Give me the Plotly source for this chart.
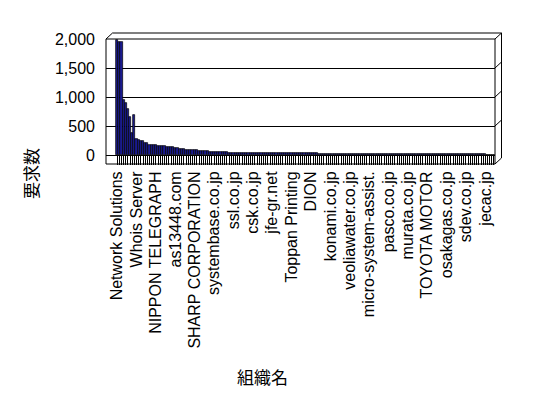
import plotly.graph_objects as go

# ---- data -------------------------------------------------------------
requests = [
    1990, 1950, 1945, 950, 905, 790, 660, 380, 690, 275,
    260, 242, 238, 215, 210, 175, 173, 171, 170, 158,
    156, 155, 153, 140, 138, 137, 135, 122, 120, 105,
    103, 101, 88, 87, 86, 85, 84, 83, 70, 69,
    68, 67, 66, 56, 55, 54, 53, 52, 51, 50,
    49, 48, 36, 36, 35, 35, 35, 34, 34, 34,
    33, 33, 33, 32, 32, 32, 31, 31, 31, 31,
    30, 30, 30, 30, 29, 29, 29, 29, 28, 28,
    28, 28, 28, 27, 27, 27, 27, 27, 26, 26,
    26, 26, 26, 26, 25, 25, 25, 25, 25, 25,
    24, 24, 24, 24, 24, 24, 23, 23, 23, 23,
    23, 23, 22, 22, 22, 22, 22, 22, 21, 21,
    21, 21, 16, 16, 16, 15, 15, 15, 15, 15,
    14, 14, 14, 14, 14, 14, 13, 13, 13, 13,
    13, 13, 12, 12, 12, 12, 12, 12, 12, 11,
    11, 11, 11, 11, 11, 11, 10, 10, 10, 10,
    10, 10, 10, 10, 9, 9, 9, 9, 9, 9,
    9, 9, 8, 8, 8, 8,
]

label_positions = [0, 9, 18, 27, 36, 45, 54, 63, 72, 81,
                   90, 99, 108, 117, 126, 135, 144, 153, 162, 171]
label_texts = [
    "Network Solutions", "Whois Server", "NIPPON TELEGRAPH", "as13448.com",
    "SHARP CORPORATION", "systembase.co.jp", "ssl.co.jp", "csk.co.jp",
    "jfe-gr.net", "Toppan Printing", "DION", "konami.co.jp",
    "veoliawater.co.jp", "micro-system-assist.", "pasco.co.jp",
    "murata.co.jp", "TOYOTA MOTOR", "osakagas.co.jp", "sdev.co.jp", "jecac.jp",
]

y_ticks = [0, 500, 1000, 1500, 2000]
y_title = "要求数"
x_title = "組織名"

# ---- figure -----------------------------------------------------------
n = len(requests)
cats = list(range(n))
label_map = dict(zip(label_positions, label_texts))
tick_text = [label_map.get(i, "") for i in cats]

OFF = 8  # page body margin of the html page
W, H = 548 - OFF, 398 - OFF
L0, T0 = 106, 39          # plot-area corner in window pixels
pw, ph = 389, 116
L, T = L0 - OFF, T0 - OFF
R = W - L - pw
B = H - T - ph

def px_x(p):
    """window pixel x -> paper"""
    return (p - L0) / pw

def px_y(p):
    """window pixel y -> paper"""
    return (T0 + ph - p) / ph

fig = go.Figure()
fig.add_trace(go.Bar(
    x=cats, y=requests,
    marker=dict(color="#1a1a8e", line=dict(color="black", width=0.7)),
    hoverinfo="x+y",
))

latin = "Liberation Sans, Arial, sans-serif"
cjk = "Noto Sans CJK JP, sans-serif"

fig.update_layout(
    width=W, height=H,
    margin=dict(l=L, r=R, t=T, b=B, pad=0, autoexpand=False),
    paper_bgcolor="white", plot_bgcolor="white",
    bargap=0, showlegend=False,
    font=dict(family=latin, color="black"),
    xaxis=dict(
        range=[-5.2, n - 0.5], automargin=False,
        tickmode="array", tickvals=cats, ticktext=tick_text,
        tickangle=-90, ticks="outside", ticklen=9, tickwidth=1,
        tickcolor="black", showgrid=False, zeroline=False,
        showline=True, linecolor="black", linewidth=1,
        tickfont=dict(size=16, family=latin, color="black"),
    ),
    yaxis=dict(
        range=[y_ticks[0], y_ticks[-1]], automargin=False,
        tickmode="array", tickvals=y_ticks,
        ticktext=[f"{v:,}" for v in y_ticks],
        ticks="", showgrid=True, gridcolor="black", gridwidth=1,
        zeroline=False, showline=False,
        ticklabelstandoff=10,
        tickfont=dict(size=16, family=latin, color="black"),
    ),
)

shapes = []
line = dict(color="black", width=1)
dx = 6.5  # depth offset (pixels)
dy = 6
floor = 164
# front box
shapes.append(dict(type="line", xref="paper", yref="paper",
                   x0=0, x1=0, y0=1, y1=px_y(floor), line=line))
shapes.append(dict(type="line", xref="paper", yref="paper",
                   x0=0, x1=1, y0=1, y1=1, line=line))
shapes.append(dict(type="line", xref="paper", yref="paper",
                   x0=1, x1=1, y0=1, y1=px_y(floor), line=line))
shapes.append(dict(type="line", xref="paper", yref="paper",
                   x0=0, x1=1, y0=px_y(floor), y1=px_y(floor), line=line))
# back edges
shapes.append(dict(type="line", xref="paper", yref="paper",
                   x0=0, x1=px_x(L0 + dx), y0=1, y1=px_y(T0 - dy), line=line))
shapes.append(dict(type="line", xref="paper", yref="paper",
                   x0=px_x(L0 + dx), x1=px_x(L0 + pw + dx),
                   y0=px_y(T0 - dy), y1=px_y(T0 - dy), line=line))
shapes.append(dict(type="line", xref="paper", yref="paper",
                   x0=px_x(L0 + pw + dx), x1=px_x(L0 + pw + dx),
                   y0=px_y(T0 - dy), y1=px_y(floor - dy), line=line))
for v in y_ticks[1:]:
    yy = T0 + ph - (v - y_ticks[0]) / (y_ticks[-1] - y_ticks[0]) * ph
    shapes.append(dict(type="line", xref="paper", yref="paper",
                       x0=1, x1=px_x(L0 + pw + dx),
                       y0=px_y(yy), y1=px_y(yy - dy), line=line))
shapes.append(dict(type="line", xref="paper", yref="paper",
                   x0=1, x1=px_x(L0 + pw + dx),
                   y0=px_y(floor), y1=px_y(floor - dy), line=line))
fig.update_layout(shapes=shapes)

fig.add_annotation(text=y_title, xref="paper", yref="paper",
                   x=px_x(30), y=px_y(174), showarrow=False, textangle=-90,
                   xanchor="center", yanchor="middle",
                   font=dict(family=cjk, size=17, color="black"))
fig.add_annotation(text=x_title, xref="paper", yref="paper",
                   x=px_x(262), y=px_y(376), showarrow=False,
                   xanchor="center", yanchor="middle",
                   font=dict(family=cjk, size=17, color="black"))

fig.write_html("out.html")
